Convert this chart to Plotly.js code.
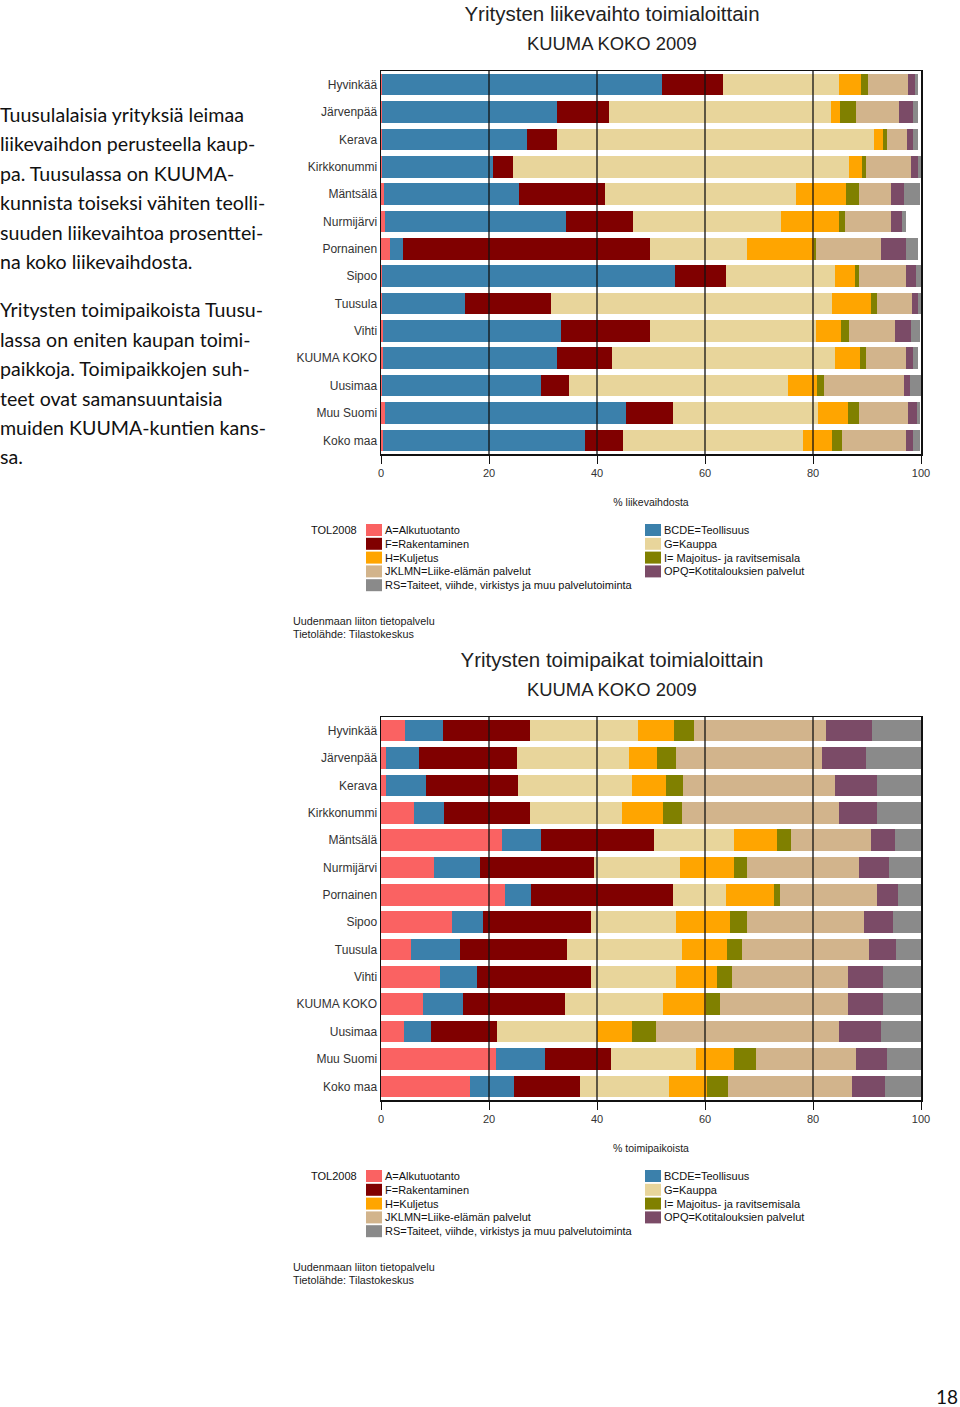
<!DOCTYPE html>
<html>
<head>
<meta charset="utf-8">
<script src="https://cdn.plot.ly/plotly-3.0.1.min.js"></script>
<style>
  html, body { margin:0; padding:0; background:#fff; }
  body { width:960px; height:1407px; position:relative; overflow:hidden; }
  #text { position:absolute; left:0; top:100px; width:290px; font-family:Lato, 'Noto Sans', sans-serif; font-size:19.6px; line-height:29.4px; color:#111; white-space:nowrap; }
  #text p { margin:0 0 19px 0; }
  .chart { position:absolute; left:290px; width:660px; height:646px; }
  #c1 { top:0; }
  #c2 { top:646px; }
  #page { position:absolute; left:936px; top:1385px; font-family:Lato, 'Noto Sans', sans-serif; font-size:19px; color:#111; }
</style>
</head>
<body>
<div id="text">
  <p>Tuusulalaisia yrityksiä leimaa<br>liikevaihdon perusteella kaup-<br>pa. Tuusulassa on KUUMA-<br>kunnista toiseksi vähiten teolli-<br>suuden liikevaihtoa prosenttei-<br>na koko liikevaihdosta.</p>
  <p>Yritysten toimipaikoista Tuusu-<br>lassa on eniten kaupan toimi-<br>paikkoja. Toimipaikkojen suh-<br>teet ovat samansuuntaisia<br>muiden KUUMA-kuntien kans-<br>sa.</p>
</div>
<div id="c1" class="chart"></div>
<div id="c2" class="chart"></div>
<div id="page">18</div>
<script>
// ---- data ----
const categories = ['Hyvinkää','Järvenpää','Kerava','Kirkkonummi','Mäntsälä','Nurmijärvi','Pornainen','Sipoo','Tuusula','Vihti','KUUMA KOKO','Uusimaa','Muu Suomi','Koko maa'];

const sectorNames = ['A=Alkutuotanto','BCDE=Teollisuus','F=Rakentaminen','G=Kauppa','H=Kuljetus','I= Majoitus- ja ravitsemisala','JKLMN=Liike-elämän palvelut','OPQ=Kotitalouksien palvelut','RS=Taiteet, viihde, virkistys ja muu palvelutoiminta'];
const sectorColors = ['#FA6262','#3B80AB','#800000','#E8D59B','#FFA500','#808000','#D2B48C','#7B4B67','#8A8A8A'];

// % liikevaihdosta (turnover share)
const turnA    = [0.1, 0.1, 0.1, 0.1, 0.5, 0.7, 1.7, 0.1, 0.1, 0.3, 0.3, 0.1, 0.8, 0.4];
const turnBCDE = [51.9, 32.5, 26.9, 20.6, 25.0, 33.6, 2.4, 54.3, 15.5, 33.0, 32.2, 29.5, 44.6, 37.4];
const turnF    = [11.4, 9.7, 5.6, 3.8, 15.9, 12.3, 45.7, 9.5, 15.9, 16.5, 10.3, 5.3, 8.6, 7.1];
const turnG    = [21.4, 41.0, 58.7, 62.1, 35.5, 27.5, 17.9, 20.1, 52.1, 30.7, 41.2, 40.4, 26.9, 33.3];
const turnH    = [4.0, 1.7, 1.6, 2.5, 9.3, 10.8, 12.4, 3.8, 7.1, 4.7, 4.7, 5.4, 5.6, 5.4];
const turnI    = [1.3, 2.9, 0.8, 0.8, 2.4, 1.1, 0.5, 0.8, 1.1, 1.4, 1.1, 1.3, 2.0, 1.7];
const turnJKLMN= [7.5, 8.1, 3.7, 8.2, 5.8, 8.4, 11.9, 8.7, 6.5, 8.6, 7.4, 14.9, 9.1, 11.9];
const turnOPQ  = [1.3, 2.5, 1.2, 1.4, 2.5, 2.1, 4.7, 1.8, 1.1, 3.0, 1.3, 1.0, 1.7, 1.3];
const turnRS   = [0.6, 1.0, 0.9, 0.5, 3.0, 0.8, 2.2, 0.9, 0.6, 1.7, 0.9, 2.1, 0.6, 1.4];

// % toimipaikoista (establishment share)
const estA     = [4.4, 1.0, 1.0, 6.2, 22.4, 9.9, 23.0, 13.1, 5.6, 11.0, 7.8, 4.2, 21.3, 16.5];
const estBCDE  = [7.0, 6.1, 7.4, 5.4, 7.3, 8.4, 4.7, 5.7, 9.0, 6.7, 7.3, 5.1, 9.1, 8.2];
const estF     = [16.2, 18.0, 17.0, 16.0, 20.8, 21.1, 26.4, 20.1, 19.8, 21.2, 18.9, 12.2, 12.1, 12.1];
const estG     = [20.0, 20.8, 21.1, 17.0, 14.9, 16.0, 9.8, 15.7, 21.4, 15.7, 18.3, 18.5, 15.9, 16.5];
const estH     = [6.7, 5.2, 6.3, 7.7, 8.0, 10.0, 8.8, 10.1, 8.3, 7.6, 7.9, 6.5, 7.0, 7.1];
const estI     = [3.6, 3.5, 3.2, 3.5, 2.6, 2.3, 1.1, 3.0, 2.7, 2.8, 2.6, 4.5, 4.0, 3.9];
const estJKLMN = [24.5, 27.1, 28.1, 29.1, 14.7, 20.9, 18.1, 21.7, 23.6, 21.4, 23.6, 33.9, 18.6, 22.9];
const estOPQ   = [8.6, 8.1, 7.8, 7.0, 4.5, 5.5, 3.8, 5.4, 5.0, 6.5, 6.5, 7.6, 5.7, 6.1];
const estRS    = [9.0, 10.2, 8.1, 8.1, 4.8, 5.9, 4.3, 5.2, 4.6, 7.1, 7.1, 7.5, 6.3, 6.7];

const tickVals = [0, 20, 40, 60, 80, 100];
const gridVals = [20, 40, 60, 80];

// ---- chart builder ----
const W = 660, H = 646, ML = 91, MR = 29, MT = 71, MB = 192;
const PW = W - ML - MR, PH = H - MT - MB;
const px = x => (x - ML) / PW;
const py = y => (MT + PH - y) / PH;
const FONT = 'Liberation Sans, Arial, sans-serif';

function makeChart(id, title, subtitle, series, axisTitle) {
  const traces = sectorNames.map((n, i) => ({
    type: 'bar', orientation: 'h', name: n,
    y: categories, x: series[i],
    marker: { color: sectorColors[i], line: { width: 0 } },
    showlegend: false, hoverinfo: 'x+name'
  }));

  const shapes = gridVals.map(v => ({
    type: 'line', xref: 'x', yref: 'paper', x0: v, x1: v, y0: 0, y1: 1,
    layer: 'above', line: { color: '#111', width: 1.3 }
  }));

  const annotations = [
    { text: subtitle, xref: 'paper', yref: 'paper', x: px(322), y: py(43),
      xanchor: 'center', yanchor: 'middle', showarrow: false,
      font: { family: FONT, size: 18.4, color: '#222' } },
    { text: 'TOL2008', xref: 'paper', yref: 'paper', x: px(19), y: py(530),
      xanchor: 'left', yanchor: 'middle', showarrow: false,
      font: { family: FONT, size: 11, color: '#111' } },
    { text: 'Uudenmaan liiton tietopalvelu', xref: 'paper', yref: 'paper', x: px(1), y: py(621),
      xanchor: 'left', yanchor: 'middle', showarrow: false,
      font: { family: FONT, size: 10.8, color: '#222' } },
    { text: 'Tietolähde: Tilastokeskus', xref: 'paper', yref: 'paper', x: px(1), y: py(634),
      xanchor: 'left', yanchor: 'middle', showarrow: false,
      font: { family: FONT, size: 10.8, color: '#222' } }
  ];

  sectorNames.forEach((n, i) => {
    const row = Math.floor(i / 2), col = i % 2;
    const cy = 530 + row * 13.8;
    const sx = col ? 355 : 76;
    shapes.push({ type: 'rect', xref: 'paper', yref: 'paper',
      x0: px(sx), x1: px(sx + 16), y0: py(cy + 6), y1: py(cy - 6),
      fillcolor: sectorColors[i], line: { width: 0 }, layer: 'above' });
    annotations.push({ text: n, xref: 'paper', yref: 'paper', x: px(sx + 17), y: py(cy),
      xanchor: 'left', yanchor: 'middle', showarrow: false,
      font: { family: FONT, size: 11, color: '#111' } });
  });

  const layout = {
    width: W, height: H,
    margin: { l: ML, r: MR, t: MT, b: MB, pad: 0 },
    paper_bgcolor: '#fff', plot_bgcolor: '#fff',
    font: { family: FONT, color: '#222' },
    title: { text: title, xref: 'container', yref: 'container', x: 322 / W, y: 1 - 14 / H,
      xanchor: 'center', yanchor: 'middle', font: { family: FONT, size: 20.5, color: '#222' } },
    barmode: 'stack', bargap: 0.21,
    xaxis: {
      range: [0, 100], tickvals: tickVals, ticktext: tickVals.map(String),
      ticks: 'outside', ticklen: 8, tickwidth: 1, tickcolor: '#111',
      showgrid: false, zeroline: false,
      showline: true, mirror: true, linecolor: '#111', linewidth: 1.5,
      layer: 'above traces', fixedrange: true, automargin: true,
      tickfont: { family: FONT, size: 11, color: '#333' },
      title: { text: axisTitle, standoff: 21, font: { family: FONT, size: 10.5, color: '#222' } }
    },
    yaxis: {
      type: 'category', autorange: 'reversed',
      ticks: '', showgrid: false, zeroline: false,
      showline: true, mirror: true, linecolor: '#111', linewidth: 1.5,
      layer: 'above traces', fixedrange: true, automargin: false,
      tickfont: { family: FONT, size: 12, color: '#333' }
    },
    shapes: shapes,
    annotations: annotations
  };

  Plotly.newPlot(id, traces, layout, { displayModeBar: false, staticPlot: true });
}

makeChart('c1', 'Yritysten liikevaihto toimialoittain', 'KUUMA KOKO 2009',
  [turnA, turnBCDE, turnF, turnG, turnH, turnI, turnJKLMN, turnOPQ, turnRS], '% liikevaihdosta');
makeChart('c2', 'Yritysten toimipaikat toimialoittain', 'KUUMA KOKO 2009',
  [estA, estBCDE, estF, estG, estH, estI, estJKLMN, estOPQ, estRS], '% toimipaikoista');
</script>
</body>
</html>
